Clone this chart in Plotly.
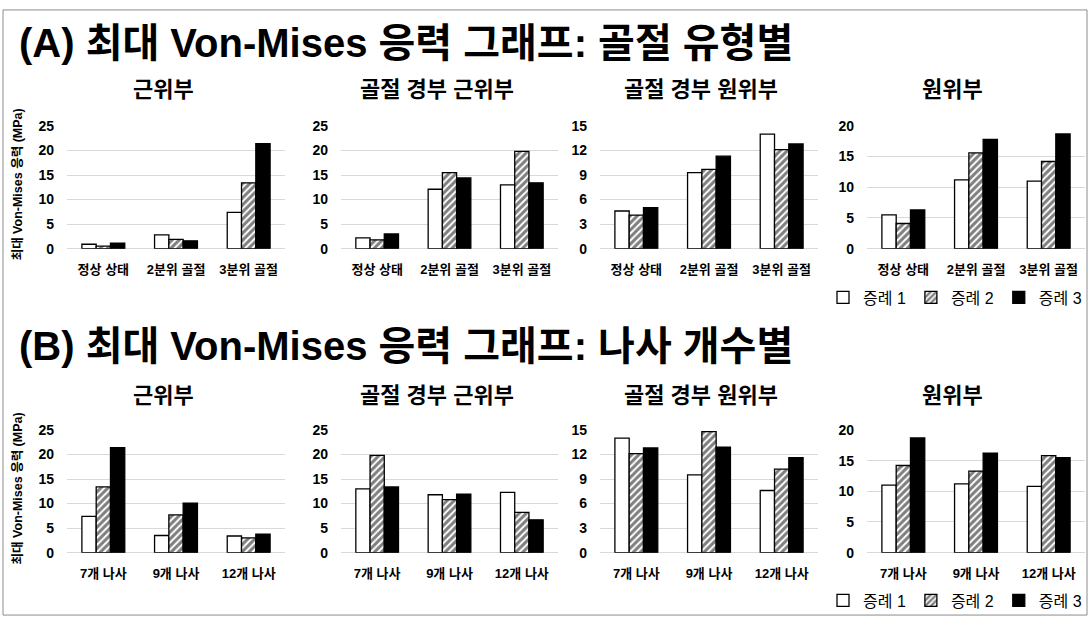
import plotly.graph_objects as go

# ---------------- data ----------------
panel_titles = ["근위부", "골절 경부 근위부", "골절 경부 원위부", "원위부"]
categories_a = ["정상 상태", "2분위 골절", "3분위 골절"]
categories_b = ["7개 나사", "9개 나사", "12개 나사"]
series_names = ["증례 1", "증례 2", "증례 3"]
y_max = [25, 25, 15, 20]
y_step = [5, 5, 3, 5]

# (A) by fracture type: each panel -> [case1, case2, case3], values per category
a_proximal = [[0.9, 2.8, 7.4], [0.5, 1.9, 13.4], [1.1, 1.6, 21.4]]
a_neck_prox = [[2.2, 12.1, 13.0], [1.8, 15.5, 19.8], [3.0, 14.4, 13.4]]
a_neck_dist = [[4.6, 9.3, 14.0], [4.1, 9.7, 12.1], [5.0, 11.3, 12.8]]
a_distal = [[5.5, 11.2, 11.0], [4.1, 15.6, 14.2], [6.3, 17.8, 18.7]]

# (B) by number of screws
b_proximal = [[7.4, 3.5, 3.4], [13.4, 7.7, 3.0], [21.4, 10.1, 3.8]]
b_neck_prox = [[13.0, 11.8, 12.3], [19.8, 10.8, 8.2], [13.4, 11.9, 6.7]]
b_neck_dist = [[14.0, 9.5, 7.6], [12.1, 14.8, 10.2], [12.8, 12.9, 11.6]]
b_distal = [[11.0, 11.2, 10.8], [14.2, 13.3, 15.8], [18.7, 16.2, 15.5]]

rows = [
    dict(title="(A) 최대 Von-Mises 응력 그래프: 골절 유형별", cats=categories_a,
         panels=[a_proximal, a_neck_prox, a_neck_dist, a_distal]),
    dict(title="(B) 최대 Von-Mises 응력 그래프: 나사 개수별", cats=categories_b,
         panels=[b_proximal, b_neck_prox, b_neck_dist, b_distal]),
]

# ---------------- layout geometry (pixels) ----------------
W, H = 1089, 625
FONT = "Liberation Sans, Arial, Noto Sans CJK KR, sans-serif"
panel_x = [(67, 285), (341, 558), (600, 818), (867, 1085)]
title_x = [163, 437, 701, 952]
row_y = [(121, 247), (433, 559)]
row_title_y = [36, 347]
panel_title_y = [84, 398]
legend_y = [297, 608]


def px(x):
    return x / W


def py(y):
    return 1 - y / H


styles = [
    dict(color="white", pattern=None),
    dict(color="white", pattern=dict(shape="/", fgcolor="black", bgcolor="white", size=5, solidity=0.6)),
    dict(color="black", pattern=None),
]

fig = go.Figure()
layout = dict(
    width=W, height=H, margin=dict(l=0, r=0, t=0, b=0),
    paper_bgcolor="white", plot_bgcolor="white",
    font=dict(family=FONT, color="black"),
    barmode="group", bargap=0.41, bargroupgap=0,
    annotations=[], shapes=[],
)

for r, row in enumerate(rows):
    for p, panel in enumerate(row["panels"]):
        idx = r * 4 + p + 1
        xa = "x" if idx == 1 else f"x{idx}"
        ya = "y" if idx == 1 else f"y{idx}"
        legend_name = "legend" if r == 0 else "legend2"
        for s in range(3):
            marker = dict(color=styles[s]["color"], line=dict(color="black", width=1.3))
            if styles[s]["pattern"]:
                marker["pattern"] = styles[s]["pattern"]
            fig.add_trace(go.Bar(
                x=row["cats"], y=panel[s], name=series_names[s],
                marker=marker, xaxis=xa, yaxis=ya,
                showlegend=(p == 3), legend=legend_name,
                hoverinfo="x+y+name",
            ))
        xkey = "xaxis" if idx == 1 else f"xaxis{idx}"
        ykey = "yaxis" if idx == 1 else f"yaxis{idx}"
        layout[xkey] = dict(
            domain=[px(panel_x[p][0]), px(panel_x[p][1])], anchor=ya,
            showgrid=False, showline=False, zeroline=False,
            ticks="outside", ticklen=9, tickcolor="rgba(0,0,0,0)",
            tickfont=dict(size=13, family=FONT, weight="bold"),
            fixedrange=True,
        )
        layout[ykey] = dict(
            domain=[py(row_y[r][1]), py(row_y[r][0])], anchor=xa,
            range=[0, y_max[p]], dtick=y_step[p], tick0=0,
            showgrid=True, gridcolor="#d9d9d9", gridwidth=1,
            zeroline=True, zerolinecolor="#d9d9d9", zerolinewidth=1,
            showline=False, ticks="", ticklabelstandoff=12,
            tickfont=dict(size=14, family=FONT, weight="bold"),
            fixedrange=True,
        )
        layout["annotations"].append(dict(
            text=panel_titles[p], x=px(title_x[p]), y=py(panel_title_y[r]),
            xref="paper", yref="paper", xanchor="center", yanchor="middle",
            showarrow=False, font=dict(size=22, family=FONT, weight="bold"),
        ))
    # row title
    layout["annotations"].append(dict(
        text=row["title"], x=px(17), y=py(row_title_y[r]),
        xref="paper", yref="paper", xanchor="left", yanchor="middle",
        showarrow=False, font=dict(size=40, family=FONT, weight="bold"),
    ))
    # y-axis title
    layout["annotations"].append(dict(
        text="최대 Von-Mises 응력 (MPa)", x=px(18), y=py((row_y[r][0] + row_y[r][1]) / 2 - 3),
        xref="paper", yref="paper", xanchor="center", yanchor="middle",
        textangle=-90, showarrow=False, font=dict(size=12.5, family=FONT, weight="bold"),
    ))

legend_common = dict(
    orientation="h", xanchor="right", yanchor="middle", x=px(1087),
    font=dict(size=16, family=FONT), bgcolor="rgba(0,0,0,0)",
    itemwidth=30, tracegroupgap=0, traceorder="normal",
)
layout["legend"] = dict(legend_common, y=py(legend_y[0]))
layout["legend2"] = dict(legend_common, y=py(legend_y[1]))

# outer frame of the figure
layout["shapes"].append(dict(
    type="rect", xref="paper", yref="paper", x0=px(3), x1=px(1087), y0=py(623), y1=py(2),
    line=dict(color="#8c8c8c", width=1), fillcolor="rgba(0,0,0,0)",
))

fig.update_layout(**layout)
fig.write_html("out.html")
